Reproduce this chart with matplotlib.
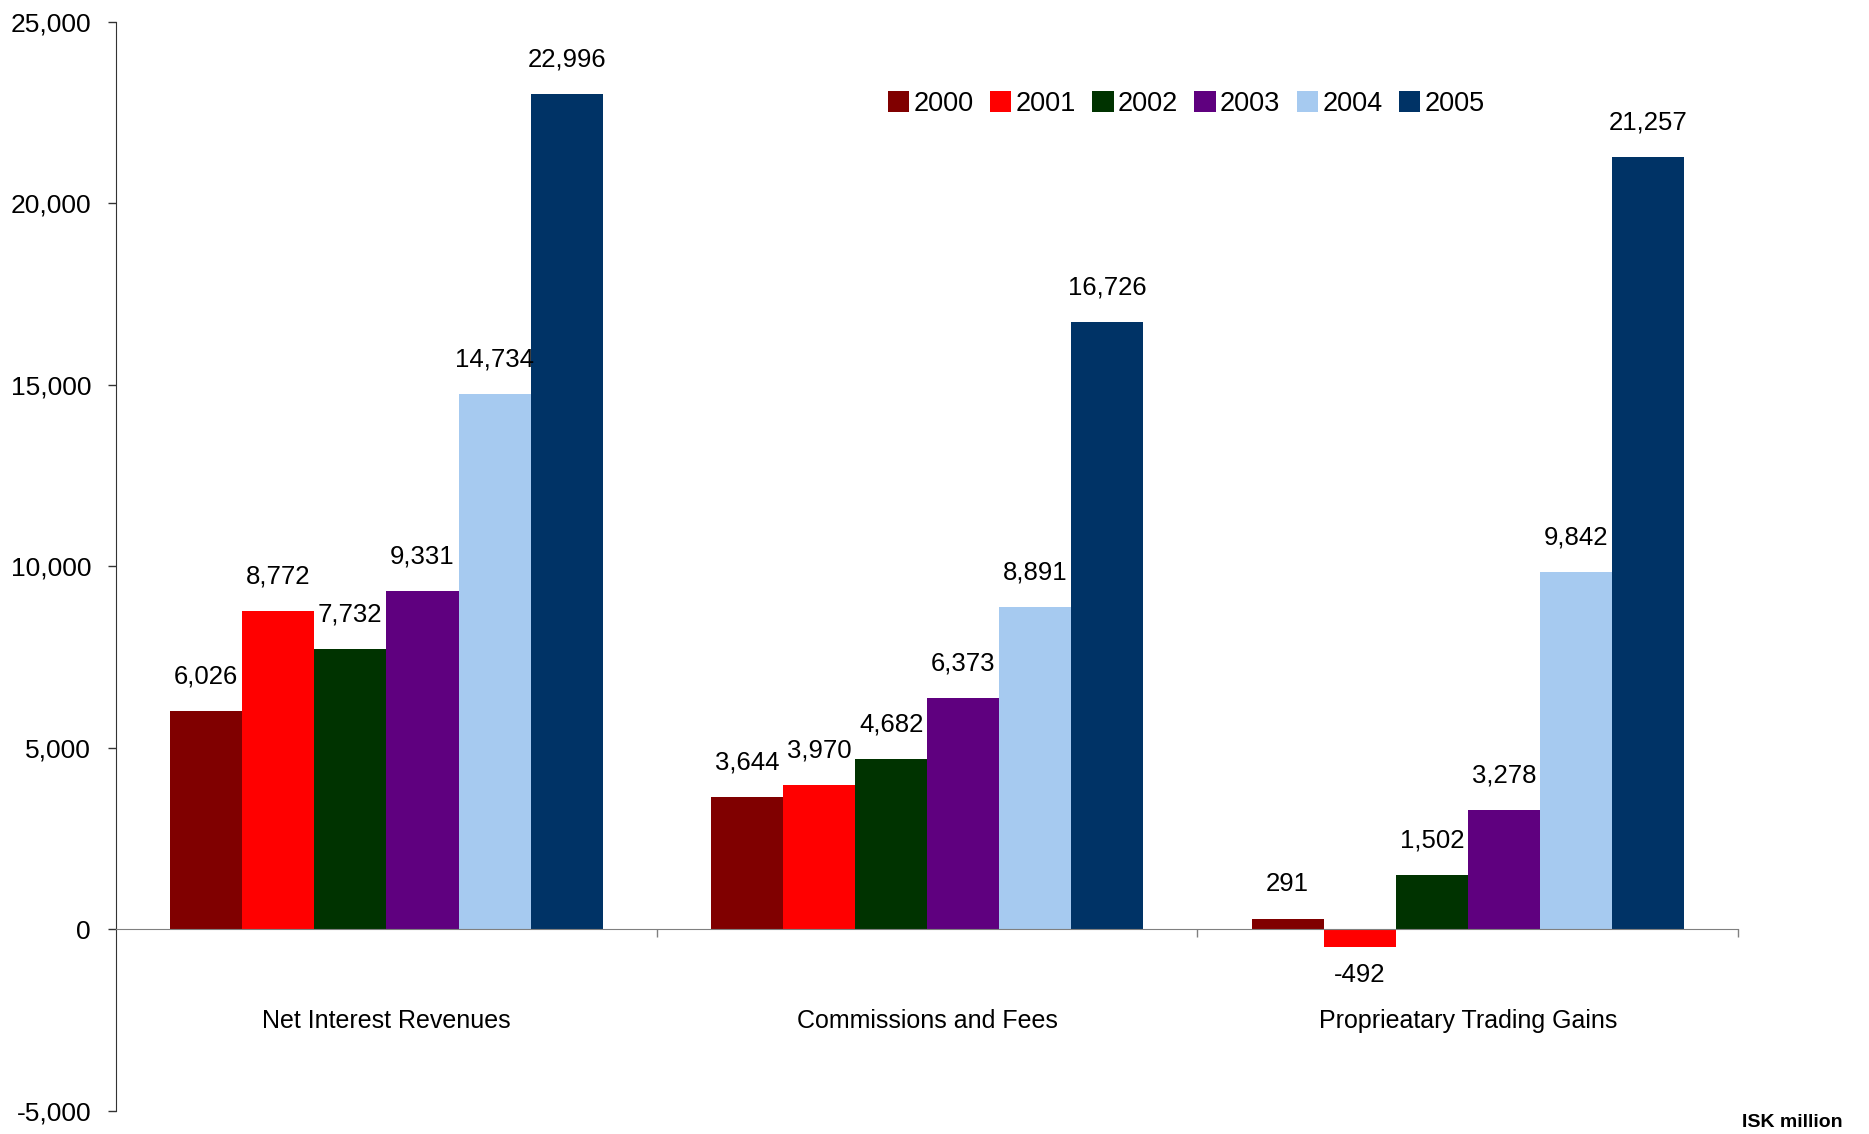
import matplotlib
matplotlib.use('Agg')
from matplotlib import pyplot as plt
from matplotlib.patches import Patch
import numpy as np

plt.rcParams['font.family'] = ['Liberation Sans', 'DejaVu Sans']

# chart data (ISK million)
categories = ['Net Interest Revenues', 'Commissions and Fees', 'Proprieatary Trading Gains']
years = ['2000', '2001', '2002', '2003', '2004', '2005']
values = {
    '2000': [6026, 3644, 291],
    '2001': [8772, 3970, -492],
    '2002': [7732, 4682, 1502],
    '2003': [9331, 6373, 3278],
    '2004': [14734, 8891, 9842],
    '2005': [22996, 16726, 21257],
}
colors = ['#800000', '#FF0000', '#003300', '#5F007F', '#A6CAF0', '#003366']
y_ticks = [-5000, 0, 5000, 10000, 15000, 20000, 25000]

fig = plt.figure(figsize=(18.69, 11.34), dpi=100)
ax = fig.add_axes([0.0621, 0.0203, 0.8679, 0.9607])

x = np.arange(len(categories))
bw = 0.8 / len(years)
for i, yr in enumerate(years):
    pos = x - 0.4 + bw * (i + 0.5)
    ax.bar(pos, values[yr], width=bw, color=colors[i], linewidth=0, zorder=2)
    for p, v in zip(pos, values[yr]):
        if v >= 0:
            ax.text(p, v + 950, f'{v:,}', ha='center', va='center', fontsize=18.5)
        else:
            ax.text(p, v - 750, f'{v:,}', ha='center', va='center', fontsize=18.5)

# category names below the zero line
for xi, name in zip(x, categories):
    ax.text(xi, -2530, name, ha='center', va='center', fontsize=18)

ax.set_xlim(-0.5, 2.5)
ax.set_ylim(-5000, 25000)
ax.set_yticks(y_ticks)
ax.set_yticklabels([f'{t:,}' for t in y_ticks], fontsize=19)
ax.tick_params(axis='y', direction='out', length=6, width=1, pad=12, color='#333333')

ax.spines['top'].set_visible(False)
ax.spines['right'].set_visible(False)
ax.spines['left'].set_color('#333333')
ax.spines['bottom'].set_position(('data', 0))
ax.spines['bottom'].set_color('#808080')
ax.set_xticks([0.5, 1.5, 2.5])
ax.set_xticklabels([])
ax.tick_params(axis='x', direction='out', length=6, width=1, color='#808080')

handles = [Patch(facecolor=c, edgecolor='none') for c in colors]
ax.legend(handles, years, loc='center', bbox_to_anchor=(0.6597, 0.9246), ncol=6,
          frameon=False, fontsize=19.5, handlelength=0.8, handleheight=0.8,
          handletextpad=0.15, columnspacing=0.6, borderaxespad=0)

fig.text(0.959, 0.01, 'ISK million', ha='center', va='center', fontsize=14, fontweight='bold')

fig.savefig('out.png', dpi=100)
